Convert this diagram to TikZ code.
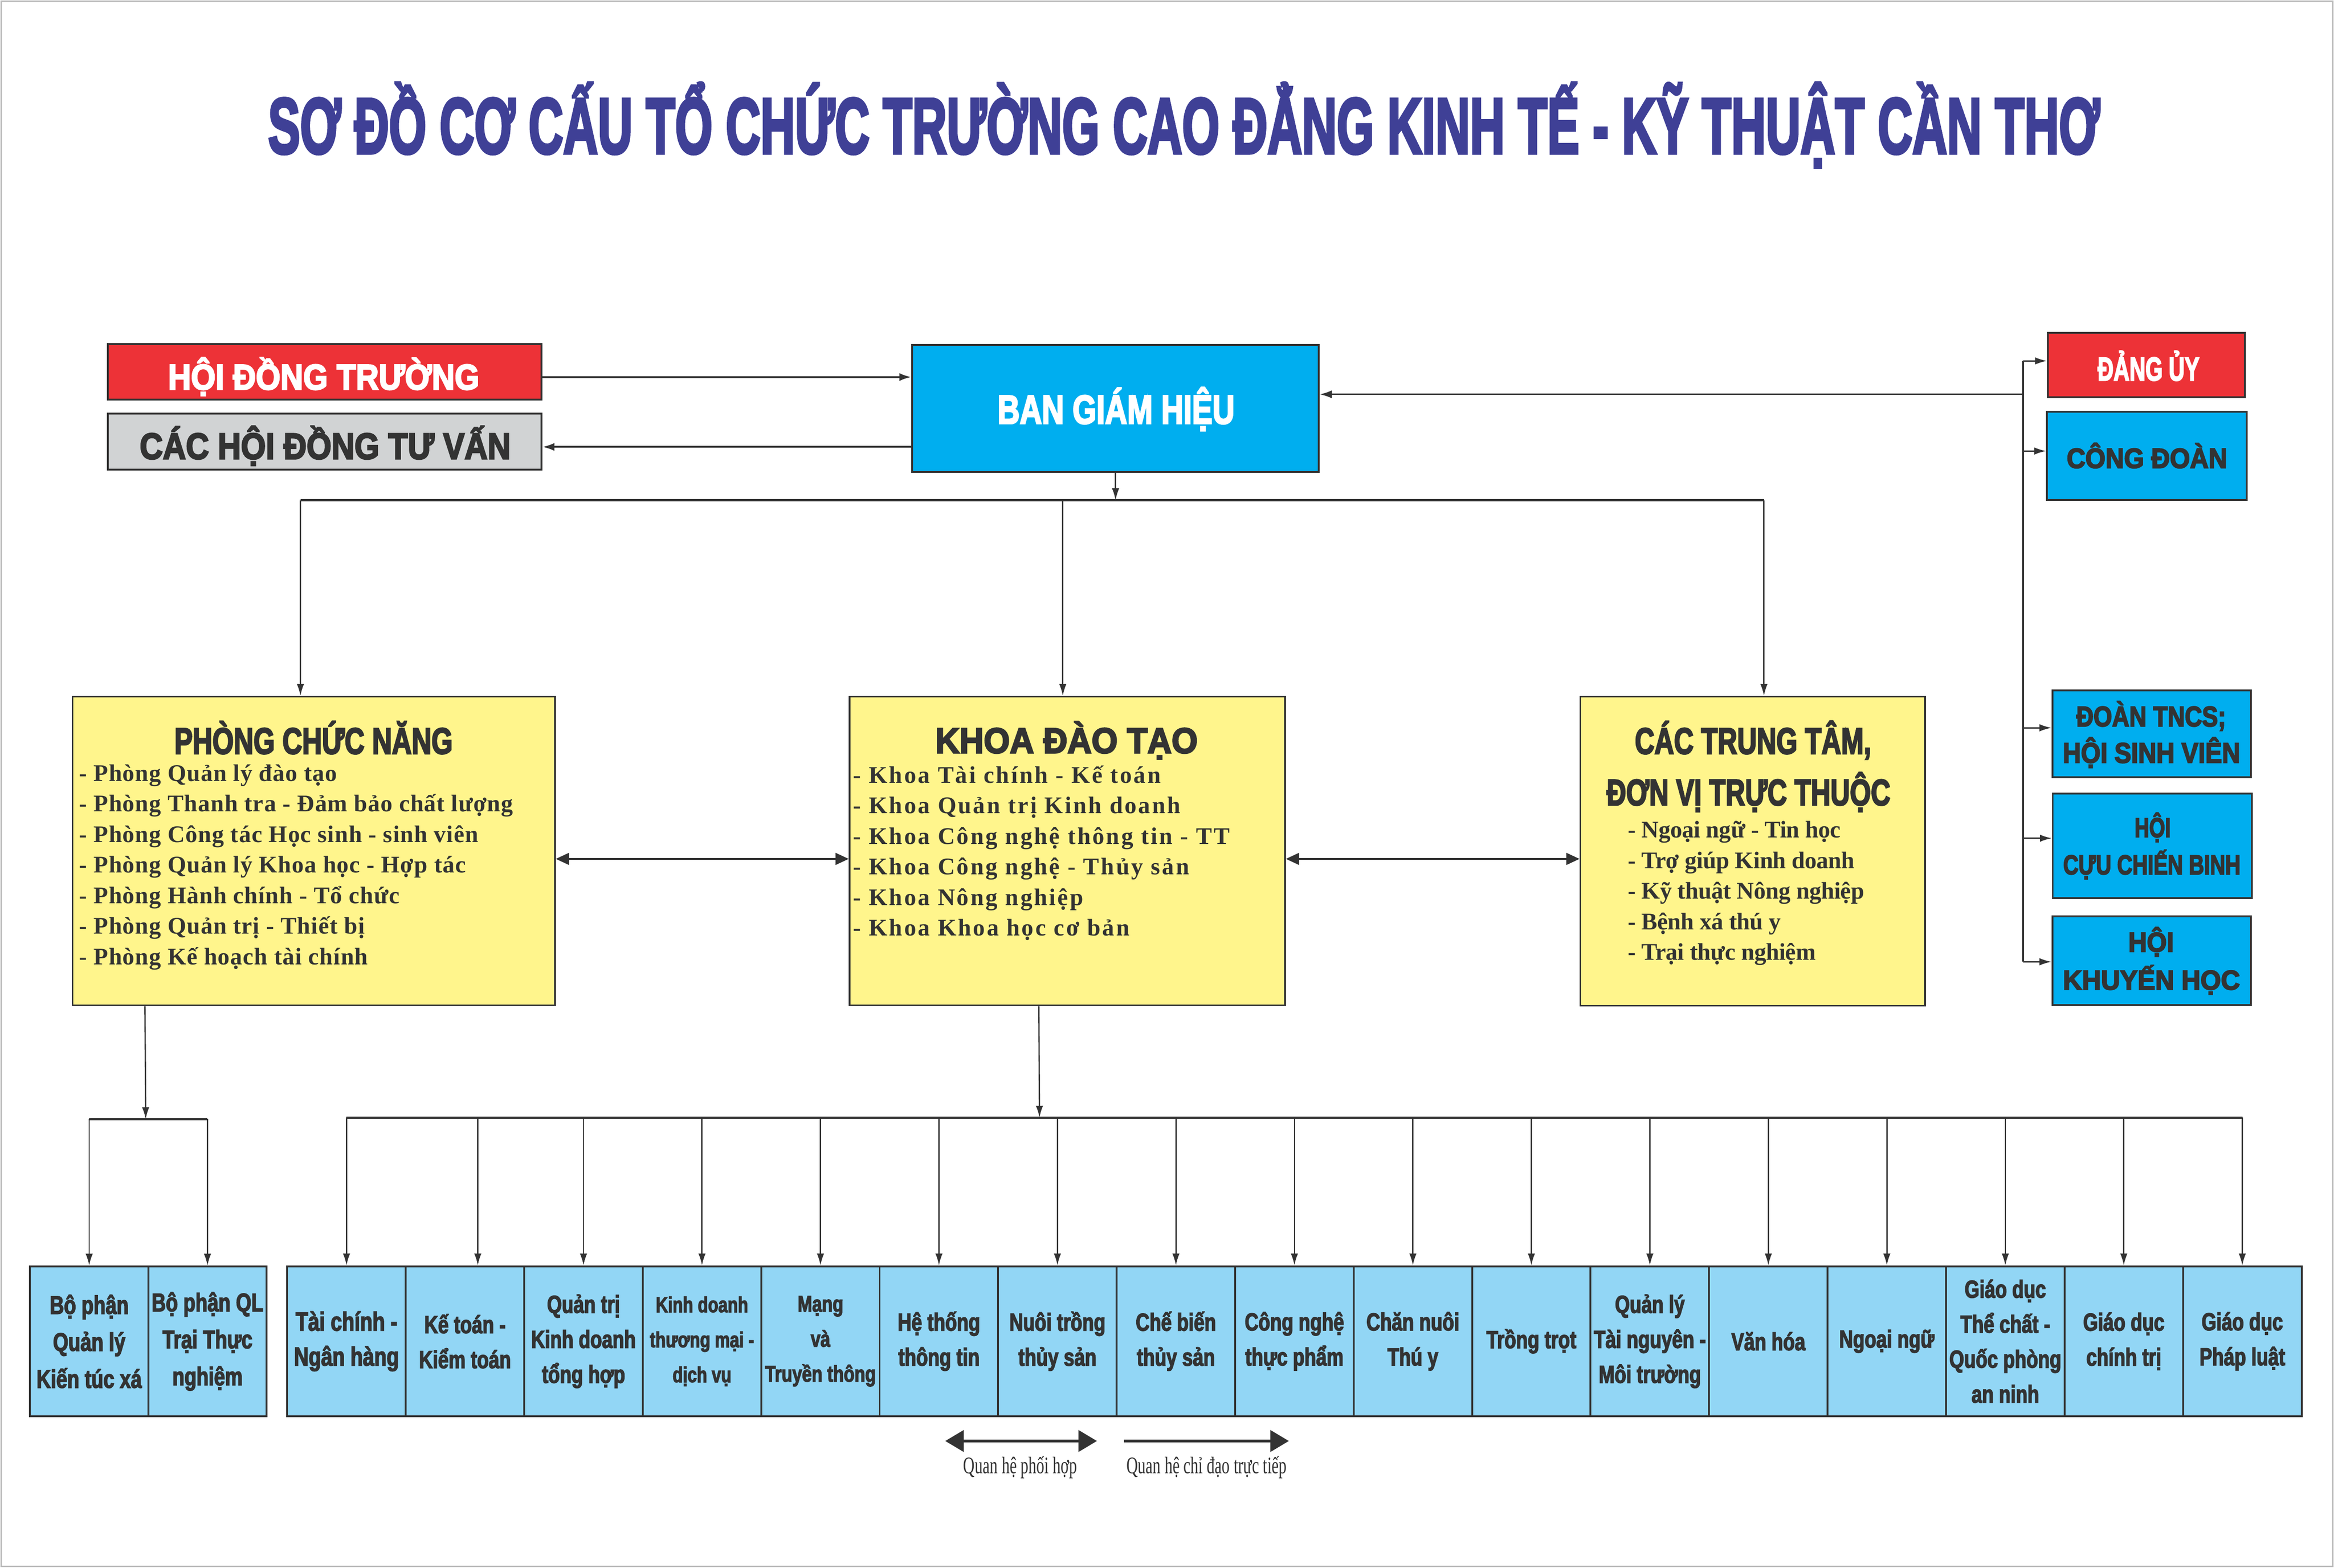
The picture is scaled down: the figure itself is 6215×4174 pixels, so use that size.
\documentclass[tikz,border=0pt]{standalone}
\usepackage{fontspec}
\usepackage{graphicx}
\usetikzlibrary{arrows.meta,fit}
\setmainfont{Liberation Serif}
\newfontfamily\heavy{Liberation Sans Bold}[FakeBold=4]
\newfontfamily\condheavy{Liberation Sans Bold}[FakeStretch=0.77,FakeBold=3]
\newfontfamily\listA{Liberation Serif}[LetterSpace=2.5]
\newfontfamily\listB{Liberation Serif}[LetterSpace=7.5]
\newfontfamily\listC{Liberation Serif}[LetterSpace=-1]
\definecolor{titleblue}{RGB}{63,64,150}
\definecolor{hred}{RGB}{237,50,55}
\definecolor{hgray}{RGB}{209,211,212}
\definecolor{hcyan}{RGB}{0,174,239}
\definecolor{hyellow}{RGB}{255,245,140}
\definecolor{hlblue}{RGB}{146,214,245}
\definecolor{ink}{RGB}{51,51,51}
\newcommand\fitw[2]{\resizebox{#1}{\height}{#2}}
\newcommand\cellnode[4][18.7]{\node[cellbox, font=\condheavy\fontsize{#1pt}{26.5pt}\selectfont] (#2) at ({765+315.5*(#3-0.5)},3571.5) {#4};}
\begin{document}
\begin{tikzpicture}[x=0.01cm,y=-0.01cm,
  box/.style={draw=ink, line width=1.4pt, inner sep=0pt},
  ybox/.style={draw=ink, fill=hyellow, line width=1.2pt, inner sep=0pt},
  txt/.style={inner sep=0pt, anchor=base},
  cellbox/.style={draw=ink, fill=hlblue, line width=1.4pt, minimum width=3.155cm, minimum height=3.99cm, inner sep=0pt, align=center, text=ink},
  conn/.style={draw=ink, line width=1pt, -{Latex[length=9pt,width=5.5pt]}},
  thickconn/.style={draw=ink, line width=1.4pt, -{Latex[length=9pt,width=6pt]}},
  bus/.style={draw=ink, line width=1.6pt},
  dbl/.style={draw=ink, line width=1.1pt, {Triangle[length=10pt,width=9pt]}-{Triangle[length=10pt,width=9pt]}},
  legarrow/.style={draw=ink, line width=2.4pt},
  listfont/.style={inner sep=0pt, anchor=base west, text=ink}
]
\useasboundingbox (0,0) rectangle (6215,4174);
\fill[white] (0,0) rectangle (6215,4174);
\draw[gray!55, line width=1pt] (3,3) rectangle (6212,4171);

% Title
\node[txt, text=titleblue, font=\heavy\fontsize{59.6pt}{62pt}\selectfont] (title) at (3153,408)
  {\fitw{48.75cm}{SƠ ĐỒ CƠ CẤU TỔ CHỨC TRƯỜNG CAO ĐẲNG KINH TẾ - KỸ THUẬT CẦN THƠ}};

% Top left boxes
\node[box, fill=hred, fit={(287,916)(1442,1064)}] (hdt) {};
\node[txt, text=white, font=\heavy\fontsize{27pt}{30pt}\selectfont] (hdtT) at (862,1037) {\fitw{8.28cm}{HỘI ĐỒNG TRƯỜNG}};
\node[box, fill=hgray, fit={(287,1101)(1442,1250)}] (chd) {};
\node[txt, text=ink, font=\heavy\fontsize{27.8pt}{30pt}\selectfont] (chdT) at (866,1222) {\fitw{9.87cm}{CÁC HỘI ĐỒNG TƯ VẤN}};

% BGH
\node[box, fill=hcyan, fit={(2429,919)(3512,1257)}] (bgh) {};
\node[txt, text=white, font=\heavy\fontsize{30.6pt}{32pt}\selectfont] (bghT) at (2972,1128) {\fitw{6.31cm}{BAN GIÁM HIỆU}};

% Right column
\node[box, fill=hred, fit={(5453,886)(5978,1058)}] (du) {};
\node[txt, text=white, font=\heavy\fontsize{25pt}{27pt}\selectfont] (duT) at (5721,1013) {\fitw{2.71cm}{ĐẢNG ỦY}};
\node[box, fill=hcyan, fit={(5451,1096)(5982,1331)}] (cd) {};
\node[txt, text=ink, font=\heavy\fontsize{21.1pt}{23pt}\selectfont] (cdT) at (5717,1246) {\fitw{4.27cm}{CÔNG ĐOÀN}};
\node[box, fill=hcyan, fit={(5465,1838)(5994,2070)}] (tncs) {};
\node[txt, text=ink, font=\heavy\fontsize{21.5pt}{23pt}\selectfont] (tncsT1) at (5728,1934) {\fitw{3.98cm}{ĐOÀN TNCS;}};
\node[txt, text=ink, font=\heavy\fontsize{21.5pt}{23pt}\selectfont] (tncsT2) at (5729,2031) {\fitw{4.72cm}{HỘI SINH VIÊN}};
\node[box, fill=hcyan, fit={(5466,2113)(5996,2391)}] (ccb) {};
\node[txt, text=ink, font=\heavy\fontsize{20.7pt}{23pt}\selectfont] (ccbT1) at (5732,2229) {\fitw{0.96cm}{HỘI}};
\node[txt, text=ink, font=\heavy\fontsize{20.7pt}{23pt}\selectfont] (ccbT2) at (5730,2328) {\fitw{4.72cm}{CỰU CHIẾN BINH}};
\node[box, fill=hcyan, fit={(5465,2440)(5994,2676)}] (kh) {};
\node[txt, text=ink, font=\heavy\fontsize{20.7pt}{23pt}\selectfont] (khT1) at (5728,2534) {\fitw{1.21cm}{HỘI}};
\node[txt, text=ink, font=\heavy\fontsize{20.7pt}{23pt}\selectfont] (khT2) at (5729,2635) {\fitw{4.71cm}{KHUYẾN HỌC}};

% Middle boxes
\node[ybox, fit={(193,1855)(1478,2677)}] (pcn) {};
\node[txt, text=ink, font=\heavy\fontsize{27.8pt}{30pt}\selectfont] (pcnT) at (835,2007) {\fitw{7.41cm}{PHÒNG CHỨC NĂNG}};
\node[listfont] (pcnL) at (210,2080) {\parbox[t]{12.5cm}{\listA\bfseries\fontsize{18.1pt}{23.13pt}\selectfont
- Phòng Quản lý đào tạo\\
- Phòng Thanh tra - Đảm bảo chất lượng\\
- Phòng Công tác Học sinh - sinh viên\\
- Phòng Quản lý Khoa học - Hợp tác\\
- Phòng Hành chính - Tổ chức\\
- Phòng Quản trị - Thiết bị\\
- Phòng Kế hoạch tài chính}};

\node[ybox, fit={(2262,1855)(3422,2677)}] (kdt) {};
\node[txt, text=ink, font=\heavy\fontsize{27pt}{30pt}\selectfont] (kdtT) at (2840,2005) {\fitw{6.98cm}{KHOA ĐÀO TẠO}};
\node[listfont] (kdtL) at (2271,2085) {\parbox[t]{11cm}{\listB\bfseries\fontsize{18.1pt}{23.13pt}\selectfont
- Khoa Tài chính - Kế toán\\
- Khoa Quản trị Kinh doanh\\
- Khoa Công nghệ thông tin - TT\\
- Khoa Công nghệ - Thủy sản\\
- Khoa Nông nghiệp\\
- Khoa Khoa học cơ bản}};

\node[ybox, fit={(4208,1855)(5126,2678)}] (ctt) {};
\node[txt, text=ink, font=\heavy\fontsize{27.8pt}{30pt}\selectfont] (cttT1) at (4668,2007) {\fitw{6.29cm}{CÁC TRUNG TÂM,}};
\node[txt, text=ink, font=\heavy\fontsize{27.8pt}{30pt}\selectfont] (cttT2) at (4656,2144) {\fitw{7.55cm}{ĐƠN VỊ TRỰC THUỘC}};
\node[listfont] (cttL) at (4334,2231) {\parbox[t]{7.5cm}{\listC\bfseries\fontsize{18.1pt}{23.13pt}\selectfont
- Ngoại ngữ - Tin học\\
- Trợ giúp Kinh doanh\\
- Kỹ thuật Nông nghiệp\\
- Bệnh xá thú y\\
- Trại thực nghiệm}};

% Bottom left cells
\node[cellbox, minimum width=3.15cm, font=\condheavy\fontsize{19.4pt}{28pt}\selectfont] (L1) at (237.5,3572) {Bộ phận\\Quản lý\\Kiến túc xá};
\node[cellbox, minimum width=3.15cm, font=\condheavy\fontsize{19.4pt}{28pt}\selectfont] (L2) at (552.5,3572) {Bộ phận QL\\Trại Thực\\nghiệm};

% Bottom main cells
\cellnode[20]{c1}{1}{Tài chính -\\Ngân hàng}
\cellnode{c2}{2}{Kế toán -\\Kiểm toán}
\cellnode{c3}{3}{Quản trị\\Kinh doanh\\tổng hợp}
\cellnode[16.5]{c4}{4}{Kinh doanh\\thương mại -\\dịch vụ}
\cellnode[17.2]{c5}{5}{Mạng\\và\\Truyền thông}
\cellnode{c6}{6}{Hệ thống\\thông tin}
\cellnode{c7}{7}{Nuôi trồng\\thủy sản}
\cellnode{c8}{8}{Chế biến\\thủy sản}
\cellnode{c9}{9}{Công nghệ\\thực phẩm}
\cellnode{c10}{10}{Chăn nuôi\\Thú y}
\cellnode{c11}{11}{Trồng trọt}
\cellnode{c12}{12}{Quản lý\\Tài nguyên -\\Môi trường}
\cellnode{c13}{13}{Văn hóa}
\cellnode{c14}{14}{Ngoại ngữ}
\cellnode{c15}{15}{Giáo dục\\Thể chất -\\Quốc phòng\\an ninh}
\cellnode{c16}{16}{Giáo dục\\chính trị}
\cellnode{c17}{17}{Giáo dục\\Pháp luật}

% Connectors top
\draw[thickconn] ([yshift=-0.14cm]hdt.east) -- ([yshift=-0.14cm]hdt.east -| bgh.west);
\coordinate (chdin) at ([yshift=-0.145cm]chd.east);
\draw[thickconn] (chdin -| bgh.west) -- (chdin);

\coordinate (bghin) at ([yshift=0.38cm]bgh.east);
\coordinate (rbusT) at (5387,961);
\coordinate (rbusB) at (5387,2561);
\draw[draw=ink, line width=1pt, -{Latex[length=9pt,width=6pt]}] (bghin -| rbusT) -- (bghin);
\draw[bus] (rbusT) -- (rbusB);
\coordinate (r2) at (5387,1201);
\coordinate (r3) at (5387,1938);
\coordinate (r4) at (5387,2232);
\draw[conn] (rbusT) -- (rbusT -| du.west);
\draw[conn] (r2) -- (r2 -| cd.west);
\draw[conn] (r3) -- (r3 -| tncs.west);
\draw[conn] (r4) -- (r4 -| ccb.west);
\draw[conn] (rbusB) -- (rbusB -| kh.west);

\coordinate (tbL) at (800,1332);
\coordinate (tbM) at (2830,1332);
\coordinate (tbR) at (4697,1332);
\draw[bus] (tbL) -- (tbR);
\draw[conn] (bgh.south) -- (bgh.south |- tbL);
\draw[conn] (tbL) -- (tbL |- pcn.north);
\draw[conn] (tbM) -- (tbM |- kdt.north);
\draw[conn] (tbR) -- (tbR |- ctt.north);

\coordinate (mid1) at ([yshift=-0.21cm]pcn.east);
\draw[dbl] (mid1) -- (mid1 -| kdt.west);
\coordinate (mid2) at ([yshift=-0.21cm]kdt.east);
\draw[dbl] (mid2) -- (mid2 -| ctt.west);

% Lower connectors
\coordinate (pcnout) at ([xshift=1.95cm]pcn.south west);
\coordinate (lbusM) at (388,2980);
\draw[conn] (pcnout) -- (lbusM);
\draw[bus] (L1.north |- lbusM) -- (L2.north |- lbusM);
\draw[conn] (L1.north |- lbusM) -- (L1.north);
\draw[conn] (L2.north |- lbusM) -- (L2.north);

\coordinate (kdtout) at ([xshift=5.06cm]kdt.south west);
\coordinate (mbusM) at (2768,2976);
\draw[conn] (kdtout) -- (mbusM);
\draw[bus] (c1.north |- mbusM) -- (c17.north |- mbusM);
\coordinate (c2a) at ([xshift=0.34cm]c2.north);
\draw[conn] (c2a |- mbusM) -- (c2a);
\foreach \n in {c1,c3,c4,c5,c6,c7,c8,c9,c10,c11,c12,c13,c14,c15,c16,c17}
  \draw[conn] (\n.north |- mbusM) -- (\n.north);

% Legend
\coordinate (lgA1) at (2517,3837);
\coordinate (lgA2) at (2921,3837);
\coordinate (lgB1) at (2993,3837);
\coordinate (lgB2) at (3432,3837);
\draw[legarrow, {Triangle[length=14pt,width=16pt]}-{Triangle[length=14pt,width=16pt]}] (lgA1) -- (lgA2);
\draw[legarrow, -{Triangle[length=14pt,width=16pt]}] (lgB1) -- (lgB2);
\node[txt, text=ink, font=\rmfamily\fontsize{18pt}{20pt}\selectfont] (lgAT) at (2717,3924) {\fitw{3.03cm}{Quan hệ phối hợp}};
\node[txt, text=ink, font=\rmfamily\fontsize{18pt}{20pt}\selectfont] (lgBT) at (3213,3924) {\fitw{4.27cm}{Quan hệ chỉ đạo trực tiếp}};
\end{tikzpicture}
\end{document}
